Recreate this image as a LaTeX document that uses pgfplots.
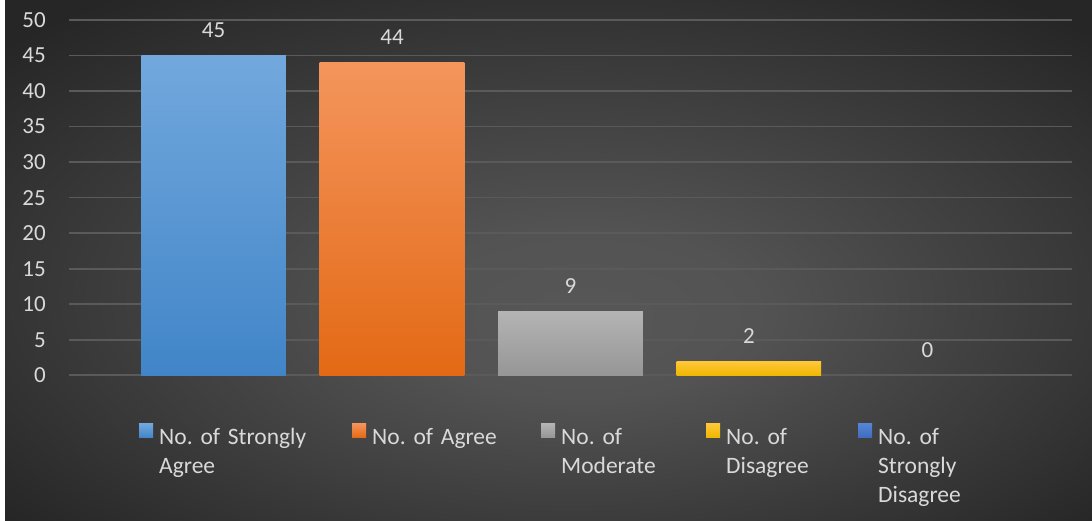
\documentclass[border=0pt]{standalone}
\usepackage{pgfplots}
\pgfplotsset{compat=1.18}
\usepackage{fontspec}
\setmainfont{Carlito}
\frenchspacing
\definecolor{lgray}{HTML}{D9D9D9}
\definecolor{gridc}{HTML}{5A5A5A}
\definecolor{bgin}{HTML}{575757}
\definecolor{bgout}{HTML}{262626}
\definecolor{blueT}{HTML}{72A8DD}
\definecolor{blueB}{HTML}{4185C8}
\definecolor{oranT}{HTML}{F4955C}
\definecolor{oranB}{HTML}{E36915}
\definecolor{grayT}{HTML}{B4B4B4}
\definecolor{grayB}{HTML}{969696}
\definecolor{yellT}{HTML}{FFC83A}
\definecolor{yellB}{HTML}{EFB700}
\definecolor{dblueT}{HTML}{5585D6}
\definecolor{dblueB}{HTML}{3F6CBE}
\pgfdeclareradialshading{bgshade}{\pgfpoint{2bp}{-6bp}}{color(0bp)=(bgin); color(8bp)=(bgin!92!bgout); color(34bp)=(bgout); color(50bp)=(bgout)}
\begin{document}
\begin{tikzpicture}[x=1pt,y=1pt]
\shade[shading=bgshade] (0,0) rectangle (1092,521);
\fill[white] (0,0) rectangle (5,521);
\begin{axis}[
  at={(69pt,145.7pt)}, anchor=south west,
  scale only axis, width=1003pt, height=355.3pt,
  xmin=-0.81, xmax=4.81, ymin=0, ymax=50,
  ytick={0,5,...,50}, xtick=\empty,
  axis line style={draw=none},
  ymajorgrids, grid style={gridc, line width=1.6pt},
  major tick length=0pt,
  clip=false,
  /pgf/number format/assume math mode=true,
  tick label style={font=\fontsize{23}{27}\selectfont, text=lgray},
  yticklabel style={anchor=east, inner sep=0pt, xshift=-23pt},
  ybar, bar width=0.81,
  nodes near coords,
  every node near coord/.append style={font=\fontsize{23}{27}\selectfont, text=lgray, anchor=base, inner sep=0pt, yshift=18pt},
  legend columns=5,
  legend cell align=left,
  legend image code/.code={\fill[#1] (0pt,0pt) rectangle (14pt,14pt); \path (20pt,0pt);},
  legend style={at={(axis description cs:0.0698,-0.135)}, anchor=north west,
    draw=none, fill=none, inner sep=0pt, column sep=0pt, row sep=0pt,
    font=\fontsize{23.5}{29}\selectfont, text=lgray,
    nodes={inner sep=0pt}},
]
\addplot[bar shift=0pt, draw=none, top color=blueT, bottom color=blueB] coordinates {(0,45)};
\addlegendentry[text width=193pt, align=left]{No. of Strongly\\Agree}
\addplot[bar shift=0pt, draw=none, top color=oranT, bottom color=oranB] coordinates {(1,44)};
\addlegendentry[text width=169pt, align=left]{No. of Agree}
\addplot[bar shift=0pt, draw=none, top color=grayT, bottom color=grayB] coordinates {(2,9)};
\addlegendentry[text width=145pt, align=left]{No. of\\Moderate}
\addplot[bar shift=0pt, draw=none, top color=yellT, bottom color=yellB] coordinates {(3,2)};
\addlegendentry[text width=132pt, align=left]{No. of\\Disagree}
\addplot[bar shift=0pt, draw=none, top color=dblueT, bottom color=dblueB] coordinates {(4,0)};
\addlegendentry[text width=110pt, align=left]{No. of\\Strongly\\Disagree}
\end{axis}
\end{tikzpicture}
\end{document}
